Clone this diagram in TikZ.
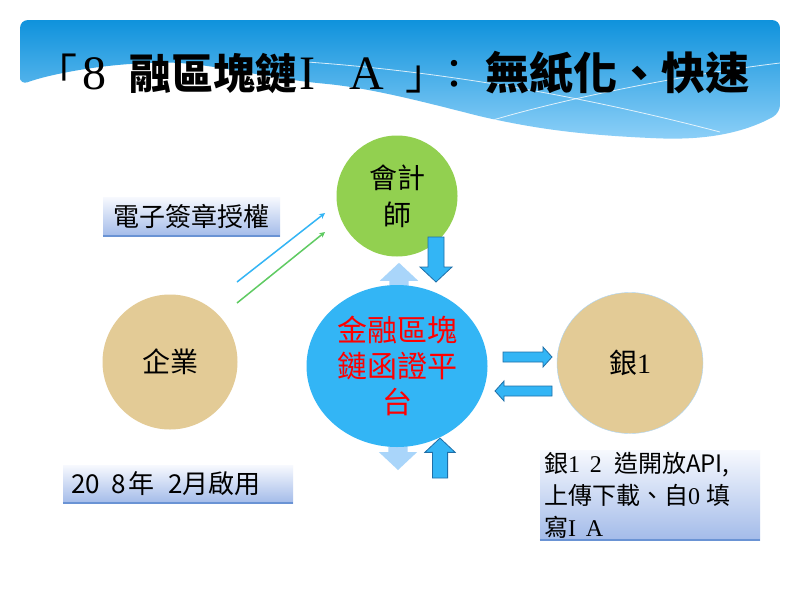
\documentclass[tikz,border=0pt]{standalone}
\usepackage{fontspec}
\newfontfamily\cjk{Noto Sans CJK TC}
\newfontfamily\serif{Liberation Serif}
\usepackage{tikz}
\usetikzlibrary{positioning}
\usetikzlibrary{shapes}
\definecolor{bannertop}{HTML}{0F92DC}
\definecolor{bannerbottom}{HTML}{8DD0F8}
\definecolor{skyblue}{HTML}{33B5F5}
\definecolor{paleblue}{HTML}{A9D5FA}
\definecolor{darkblue}{HTML}{1F6FA8}
\definecolor{leafgreen}{HTML}{92D050}
\definecolor{linegreen}{HTML}{5FCB62}
\definecolor{papyrus}{HTML}{E3CB96}
\definecolor{tagtop}{HTML}{F7F9FE}
\definecolor{tagbottom}{HTML}{A3BBE9}
\definecolor{tagline}{HTML}{6A93D4}
\tikzset{
    bubble/.style={ellipse, inner sep=0pt, align=center, font=\cjk\fontsize{28}{37}\selectfont},
    tanbubble/.style={bubble, fill=papyrus},
    tagbox/.style={rectangle, inner sep=0pt, top color=tagtop, bottom color=tagbottom, font=\cjk\fontsize{24}{32}\selectfont},
    tagedge/.style={tagline, line width=2.5pt},
    thinarrow/.style={->, >=stealth, line width=1.5pt}
}
\tikzset{
    vertarrow/.pic={
		\path[pic actions] (0,-8) -- (#1-15,-8) -- (#1-15,-16) -- (#1,0) -- (#1-15,16) -- (#1-15,8) -- (0,8) -- cycle;
	}
}
\tikzset{
    sidearrow/.pic={
		\path[pic actions] (0,-5) -- (#1-9,-5) -- (#1-9,-10) -- (#1,0) -- (#1-9,10) -- (#1-9,5) -- (0,5) -- cycle;
	}
}
\begin{document}
\begin{tikzpicture}[x=1pt,y=-1pt]
			\useasboundingbox[fill=white] (0,0) rectangle (800,600);
			% banner
			\begin{scope}
				\clip[rounded corners=8] (20,85) -- (20,20) -- (780,20) -- (780,113)
					.. controls (740,135) and (700,140) .. (650,138)
					.. controls (570,134) and (530,127) .. (483,117)
					.. controls (420,101) and (370,88) .. (317,83)
					.. controls (250,75) and (200,61) .. (150,63)
					.. controls (100,65) and (50,74) .. (20,85) -- cycle;
				\shade[top color=bannertop, bottom color=bannerbottom] (20,20) rectangle (780,140);
				\draw[white, opacity=0.8, line width=0.8pt] (307,62) .. controls (420,70) and (560,90) .. (720,132);
				\draw[white, opacity=0.8, line width=0.8pt] (493,120) .. controls (560,100) and (680,75) .. (780,63);
			\end{scope}
			\node[anchor=west, inner sep=0pt, font=\fontsize{42}{50}\selectfont] (title) at (35,73)
				{{\cjk 「}\hspace{5pt}{\serif\fontsize{48}{50}\selectfont 8}\hspace{23pt}{\cjk\bfseries 融區塊鏈}\hspace{2pt}{\serif\fontsize{48}{50}\selectfont I\hspace{34pt}A}\hspace{22pt}{\cjk 」}\hspace{-14pt}{\cjk ：}\hspace{10pt}{\cjk\bfseries\fontsize{44}{50}\selectfont 無紙化、快速}};
			% faded arrows behind the platform
			\pic[fill=paleblue, scale=1.2, rotate=90] at (399,300) {vertarrow={31}};
			\pic[fill=paleblue, scale=1.2, rotate=-90] at (398,440) {vertarrow={25}};
			% nodes
			\node[bubble, fill=leafgreen, minimum size=121] (cpa) at (397,196) {會計\\師};
			\node[bubble, fill=skyblue, text=red, minimum width=181, minimum height=162,
				font=\cjk\fontsize{30}{36}\selectfont] (platform) at (397,366) {金融區塊\\鏈函證平\\台};
			\node[tanbubble, minimum size=135] (firm) at (170,362) {企業};
			\node[tanbubble, draw=paleblue, minimum width=146, minimum height=141] (bank) at (630,363)
				{銀{\serif 1}};
			% tags
			\node[tagbox, minimum width=177, minimum height=39, font=\cjk\fontsize{26}{30}\selectfont] (signtag) at (191.5,216.5) {電子簽章授權};
			\draw[tagedge] (signtag.south west) -- (signtag.south east);
			\node[tagbox, minimum width=230, minimum height=38, text width=214, align=left,
				font=\cjk\fontsize{26}{30}\selectfont] (datetag) at (178,484)
				{20\hspace{12pt}8\hspace{2pt}年\hspace{14pt}2月啟用};
			\draw[tagedge] (datetag.south west) -- (datetag.south east);
			\node[tagbox, minimum width=220, minimum height=90, text width=212, align=left] (banktag) at (650,495)
				{銀{\serif 1\hspace{10pt}2}\hspace{12pt}造開放API,\\上傳下載、自{\serif 0}\hspace{6pt}填\\寫{\serif I\hspace{10pt}A}};
			\draw[tagedge] (banktag.south west) -- (banktag.south east);
			% signing lines
			\coordinate (blueTail) at (237,282);
			\coordinate (blueTip) at (325,213);
			\coordinate (greenTail) at (237,303);
			\coordinate (greenTip) at (325,232);
			\draw[thinarrow, skyblue] (blueTail) -- (blueTip);
			\draw[thinarrow, linegreen] (greenTail) -- (greenTip);
			% block arrows
			\pic[fill=skyblue, draw=darkblue, thick, rotate=-90] at (436,237) {vertarrow={45}};
			\pic[fill=skyblue, draw=darkblue, thick, rotate=90, scale=0.95] at (440,478) {vertarrow={42}};
			\pic[fill=skyblue, draw=darkblue, thick] at (503,357) {sidearrow={49}};
			\pic[fill=skyblue, draw=darkblue, thick, rotate=180] at (552,391) {sidearrow={57}};
		\end{tikzpicture}
\end{document}
